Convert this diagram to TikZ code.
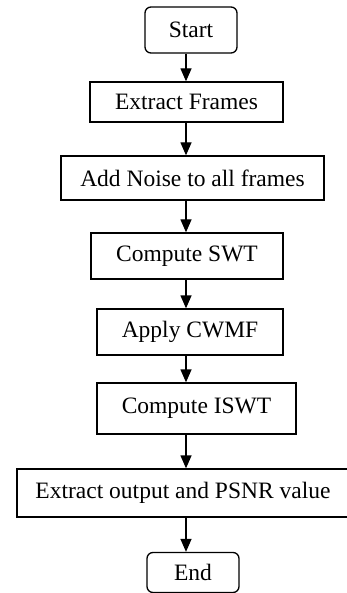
\documentclass[tikz,border=0pt]{standalone}
\usepackage{fontspec}
\setmainfont{Liberation Serif}
\usetikzlibrary{arrows.meta}
\tikzset{
  box/.style={draw=black, line width=1.3pt, inner sep=0pt, align=center,
    font=\fontsize{23.5}{26}\selectfont},
  term/.style={box, rounded corners=6pt},
  flow/.style={line width=1.3pt, -{Triangle[length=13pt,width=11pt]}}
}
\begin{document}
\begin{tikzpicture}[x=1pt,y=-1pt]
\useasboundingbox (0,0) rectangle (346,593);
\node[term, minimum width=92pt, minimum height=46pt] (start) at (191,30) {Start};
\node[box, minimum width=193pt, minimum height=40pt] (frames) at (186.5,102) {Extract Frames};
\node[box, minimum width=263pt, minimum height=44pt] (noise) at (192.5,178) {Add Noise to all frames};
\node[box, minimum width=192pt, minimum height=46pt] (swt) at (187,256) {Compute SWT};
\node[box, minimum width=186pt, minimum height=46pt] (cwmf) at (190,332) {Apply CWMF};
\node[box, minimum width=199pt, minimum height=51pt] (iswt) at (196.5,408.5) {Compute ISWT};
\node[box, minimum width=332pt, minimum height=48pt] (psnr) at (183,493) {Extract output and PSNR value};
\node[term, minimum width=92pt, minimum height=40pt] (end) at (193,572.5) {End};
\foreach \a/\b in {start/frames, frames/noise, noise/swt, swt/cwmf, cwmf/iswt, iswt/psnr, psnr/end}
  \draw[flow] (\a.south -| 186,0) -- (\b.north -| 186,0);
\end{tikzpicture}
\end{document}
